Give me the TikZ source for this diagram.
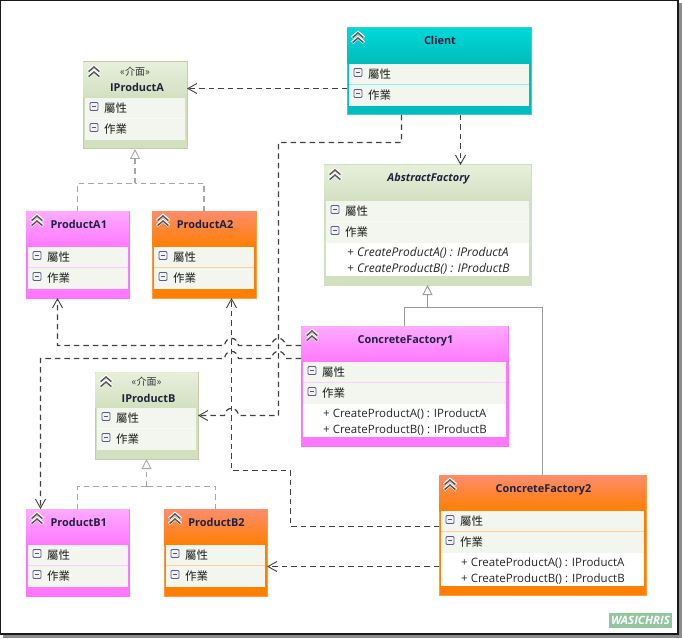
\documentclass[tikz,border=0pt]{standalone}
\usepackage{fontspec}
\setmainfont{Open Sans}
\newfontfamily\cjkfont{Noto Sans CJK TC}
\usetikzlibrary{arrows.meta,shadings,calc}

% Palettes: header top/bottom, outline, row separator, footer
\definecolor{sagetop}{HTML}{E7EFDC}\definecolor{sagebot}{HTML}{D2E0BF}
\definecolor{sageline}{HTML}{D0DFBE}\definecolor{sagesep}{HTML}{F8FAF4}
\definecolor{tantop}{HTML}{E7EFDC}\definecolor{tanbot}{HTML}{D2E0BF}
\definecolor{tanline}{HTML}{C9CBA8}\definecolor{tansep}{HTML}{F8FAF4}
\definecolor{pinktop}{HTML}{FFAAFF}\definecolor{pinkbot}{HTML}{FF78FF}
\definecolor{pinkline}{HTML}{FF70FF}\definecolor{pinksep}{HTML}{FFD0FF}
\definecolor{orangetop}{HTML}{FF8C6C}\definecolor{orangebot}{HTML}{FF7F00}
\definecolor{orangeline}{HTML}{FF9A40}\definecolor{orangesep}{HTML}{FFCFA0}
\definecolor{cyantop}{HTML}{00D8D8}\definecolor{cyanbot}{HTML}{00BCBC}
\definecolor{cyanline}{HTML}{40CCCC}\definecolor{cyansep}{HTML}{90EEEE}
\definecolor{rowfill}{HTML}{F3F6EF}
\definecolor{titleink}{HTML}{1E2240}
\definecolor{stampgreen}{HTML}{92C69E}

\tikzset{
  classbox/.style={inner sep=0pt,outer sep=0pt,line width=1pt},
  classtitle/.style={inner sep=0pt,text height=8pt,text depth=0pt,font=\fontsize{10.9}{12}\selectfont\bfseries,text=titleink},
  rowlabel/.style={inner sep=0pt,anchor=west,font=\cjkfont\fontsize{11.5}{13}\selectfont,text=black!90},
  methodlabel/.style={inner sep=0pt,anchor=west,text height=8pt,text depth=0pt,font=\fontsize{11.5}{13}\selectfont,text=black!85},
  italiclabel/.style={methodlabel,font=\fontsize{12}{13}\selectfont\itshape},
  stereolabel/.style={inner sep=0pt,font=\cjkfont\fontsize{10}{11}\selectfont,text=black!80},
  depend/.style={draw=black!75,line width=1.2pt,dash pattern=on 5.5pt off 4pt,
    -{Straight Barb[length=9pt,width=10pt,line width=0.9pt]}},
  realizes/.style={draw=black!35,line width=1.2pt,dash pattern=on 5.5pt off 4pt},
  inherits/.style={draw=black!40,line width=1.2pt},
  hollowtip/.style={-{Triangle[open,length=10pt,width=10pt,fill=white,line width=0.9pt]}},
}

% Collapse chevrons in a header corner
\newcommand{\chevrons}[2]{%
  \foreach \dy in {0,5}{
    \draw[white,line width=3.2pt,line join=miter] (#1,#2+5.6+\dy) -- (#1+6,#2+0.6+\dy) -- (#1+12,#2+5.6+\dy);
  }
  \foreach \dy in {0,5}{
    \draw[black!65,line width=1.5pt] (#1+0.6,#2+5.6+\dy) -- (#1+6,#2+1+\dy) -- (#1+11.4,#2+5.6+\dy);
  }
}
% Section collapse box
\newcommand{\minusbox}[2]{%
  \draw[draw=black!20!blue!30!gray,fill=black!5,line width=0.8pt,rounded corners=1pt] (#1,#2) rectangle (#1+8,#2+8);
  \draw[black!65,line width=1pt] (#1+1.8,#2+4) -- (#1+6.2,#2+4);
}

% Class box: name, x0, y0, x1, y1, palette, title markup
\newcommand{\umlclass}[7]{%
  \pgfmathsetmacro{\cw}{#4-#2}\pgfmathsetmacro{\ch}{#5-#3}
  \pgfmathsetmacro{\cx}{(#2+#4)/2}\pgfmathsetmacro{\cy}{(#3+#5)/2}
  \pgfmathsetmacro{\ra}{#3+36}\pgfmathsetmacro{\rb}{#3+56.5}\pgfmathsetmacro{\rc}{#3+78}
  \pgfmathsetmacro{\ilx}{#2+2}\pgfmathsetmacro{\irx}{#4-2}
  \node[classbox,draw=#6line,fill=#6bot,minimum width=\cw pt,minimum height=\ch pt] (#1) at (\cx,\cy) {};
  \shade[top color=#6top,bottom color=#6bot] (#2+0.5,#3+0.5) rectangle (#4-0.5,\ra);
  \fill[rowfill] (\ilx,\ra) rectangle (\irx,\rc);
  \draw[#6sep,line width=1pt] (\ilx,\rb) -- (\irx,\rb);
  \chevrons{#2+5}{#3+4}
  \minusbox{#2+7}{\ra+4.5}
  \minusbox{#2+7}{\rb+5}
  \node[rowlabel] (#1-attrs) at (#2+21,\ra+10) {屬性};
  \node[rowlabel] (#1-ops) at (#2+21,\rb+10.5) {作業};
  #7
}
% Title of an ordinary class
\newcommand{\plaintitle}[3]{\node[classtitle] (#1-title) at (\cx+1,#2) {#3};}
% Title of an interface, with its stereotype line above
\newcommand{\ifacetitle}[3]{%
  \node[stereolabel] (#1-stereo) at (\cx,#2+9.5) {«介面»};
  \node[classtitle] (#1-title) at (\cx+2,#2+26) {#3};}
% White method list under the operations row
\newcommand{\methodlist}[5]{%
  \fill[white] (\ilx,\rc) rectangle (\irx,\rc+33);
  \node[#3] (#1-ma) at (#2,\rc+9) {#4};
  \node[#3] (#1-mb) at (#2,\rc+25) {#5};}

% A horizontal run leftwards that jumps over a vertical line at x
\newcommand{\hopleft}[2]{-- (#1+7,#2) .. controls (#1+6,#2-9.5) and (#1-6,#2-9.5) .. (#1-7,#2)}

\begin{document}
\begin{tikzpicture}[x=1pt,y=-1pt]
\useasboundingbox (0,0) rectangle (682,639);
\fill[white] (0,0) rectangle (682,639);

% Screenshot frame and its shadow
\draw[black!45,line width=3pt] (680,3) -- (680,636.5) -- (3,636.5);
\draw[black!90,line width=1.3pt] (0.7,0.7) rectangle (678,634);

% Classes
\umlclass{ipa}{83}{62}{187}{149}{tan}{\ifacetitle{ipa}{62}{IProductA}}
\umlclass{pa1}{26}{211}{129.5}{298}{pink}{\plaintitle{pa1}{224}{ProductA1}}
\umlclass{pa2}{152}{211}{256}{298}{orange}{\plaintitle{pa2}{224}{ProductA2}}
\umlclass{client}{347}{28}{531}{115}{cyan}{\plaintitle{client}{41}{Client}}
\umlclass{af}{324}{165}{531}{285}{sage}{\plaintitle{af}{178}{\itshape AbstractFactory}
  \methodlist{af}{347}{italiclabel}{+ CreateProductA() : IProductA}{+ CreateProductB() : IProductB}}
\umlclass{cfa}{301}{326}{508}{446}{pink}{\plaintitle{cfa}{339}{ConcreteFactory1}
  \methodlist{cfa}{323}{methodlabel}{+ CreateProductA() : IProductA}{+ CreateProductB() : IProductB}}
\umlclass{ipb}{95}{372}{198}{459}{tan}{\ifacetitle{ipb}{372}{IProductB}}
\umlclass{cfb}{439}{475}{646}{595}{orange}{\plaintitle{cfb}{488}{ConcreteFactory2}
  \methodlist{cfb}{461}{methodlabel}{+ CreateProductA() : IProductA}{+ CreateProductB() : IProductB}}
\umlclass{pb1}{26}{509}{129.5}{596}{pink}{\plaintitle{pb1}{522}{ProductB1}}
\umlclass{pb2}{164}{509}{267}{596}{orange}{\plaintitle{pb2}{522}{ProductB2}}

% Interface realizations
\coordinate (ja) at (135,183.5);
\draw[realizes] (pa1.north) |- (ja);
\draw[realizes] (pa2.north) |- (ja);
\draw[realizes,hollowtip] (ja) -- (ipa.south);
\coordinate (jb) at (146.5,486.5);
\draw[realizes] (pb1.north) |- (jb);
\draw[realizes] (pb2.north) |- (jb);
\draw[realizes,hollowtip] (jb) -- (ipb.south);

% Factory inheritance
\coordinate (jf) at (427.5,307.5);
\draw[inherits] (cfa.north) |- (jf);
\draw[inherits] (cfb.north) |- (jf);
\draw[inherits,hollowtip] (jf) -- (af.south);

% Client dependencies
\draw[depend] (client.west |- 0,88.5) -- (ipa.east |- 0,88.5);
\draw[depend] (client.south -| 460.5,0) -- (af.north -| 460.5,0);
\draw[depend] (client.south -| 401.5,0) -- (401.5,142.5) -- (278.5,142.5) -- (278.5,415.5)
  \hopleft{231.5}{415.5} -- (ipb.east |- 0,415.5);

% Factory products
\draw[depend] (cfa.west |- 0,345.5) \hopleft{278.5}{345.5} \hopleft{231.5}{345.5}
  -- (57.5,345.5) -- (pa1.south -| 57.5,0);
\draw[depend] (cfa.west |- 0,358.5) \hopleft{278.5}{358.5} \hopleft{231.5}{358.5}
  -- (40.5,358.5) -- (pb1.north -| 40.5,0);
\draw[depend] (cfb.west |- 0,526.5) -- (290.5,526.5) -- (290.5,470.5) -- (231.5,470.5) -- (pa2.south -| 231.5,0);
\draw[depend] (cfb.west |- 0,566.5) -- (pb2.east |- 0,566.5);

% Signature stamp
\node[fill=stampgreen,inner sep=0pt,minimum width=63pt,minimum height=15pt,
  text=white,font=\fontsize{11.5}{12}\selectfont\bfseries\itshape] (stamp) at (640.5,620.5) {WASICHRIS};
\end{tikzpicture}
\end{document}
